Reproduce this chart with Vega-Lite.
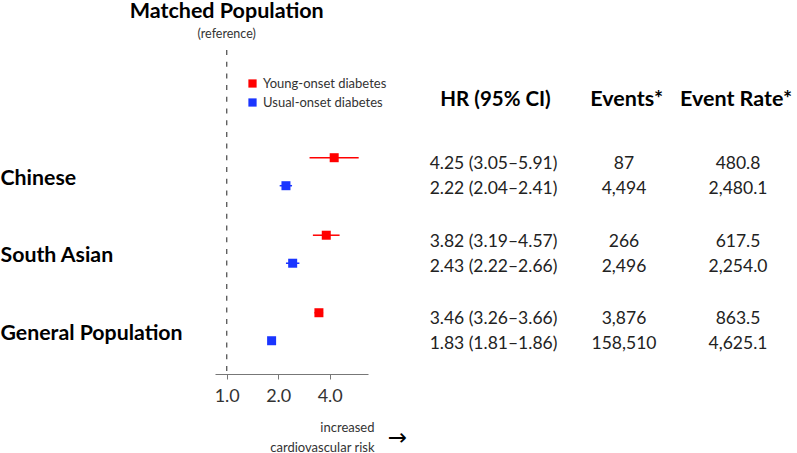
{
  "$schema": "https://vega.github.io/schema/vega-lite/v6.json",
  "background": "white",
  "padding": {"top": 1, "left": 0, "right": 0, "bottom": 0},
  "bounds": "flush",
  "spacing": 90.7,
  "config": {"view": {"stroke": null}, "font": "Lato"},
  "datasets": {
    "rows": [
      {"group": "Chinese", "type": "Young-onset diabetes", "hr": 4.25, "lo": 3.05, "hi": 5.91, "hrText": "4.25 (3.05–5.91)", "events": 87, "rate": 480.8},
      {"group": "Chinese", "type": "Usual-onset diabetes", "hr": 2.22, "lo": 2.04, "hi": 2.41, "hrText": "2.22 (2.04–2.41)", "events": 4494, "rate": 2480.1},
      {"group": "South Asian", "type": "Young-onset diabetes", "hr": 3.82, "lo": 3.19, "hi": 4.57, "hrText": "3.82 (3.19–4.57)", "events": 266, "rate": 617.5},
      {"group": "South Asian", "type": "Usual-onset diabetes", "hr": 2.43, "lo": 2.22, "hi": 2.66, "hrText": "2.43 (2.22–2.66)", "events": 2496, "rate": 2254.0},
      {"group": "General Population", "type": "Young-onset diabetes", "hr": 3.46, "lo": 3.26, "hi": 3.66, "hrText": "3.46 (3.26–3.66)", "events": 3876, "rate": 863.5},
      {"group": "General Population", "type": "Usual-onset diabetes", "hr": 1.83, "lo": 1.81, "hi": 1.86, "hrText": "1.83 (1.81–1.86)", "events": 158510, "rate": 4625.1}
    ],
    "headers": [
      {"col": "HR", "label": "HR (95% CI)"},
      {"col": "Events", "label": "Events*"},
      {"col": "Rate", "label": "Event Rate*"}
    ],
    "reference": [{"ref": 1}]
  },
  "resolve": {
    "scale": {"x": "independent", "y": "independent", "yOffset": "independent", "color": "independent"},
    "legend": {"color": "independent"}
  },
  "hconcat": [
    {
      "width": 153,
      "height": 324,
      "title": {
        "text": "Matched Population",
        "subtitle": "(reference)",
        "anchor": "start",
        "align": "center",
        "frame": "group",
        "dx": 11.7,
        "offset": 9,
        "font": "Lato",
        "fontSize": 21.5,
        "fontWeight": "bold",
        "color": "black",
        "subtitleFont": "Lato",
        "subtitleFontSize": 12.5,
        "subtitleColor": "#333",
        "subtitlePadding": 5
      },
      "layer": [
        {
          "data": {"name": "reference"},
          "mark": {"type": "rule", "strokeDash": [5, 6.7], "color": "#555", "strokeWidth": 1.3},
          "encoding": {
            "x": {"field": "ref", "type": "quantitative"}
          }
        },
        {
          "data": {"name": "rows"},
          "mark": {"type": "rule", "strokeWidth": 1.5},
          "encoding": {
            "x": {
              "field": "lo", "type": "quantitative",
              "scale": {"type": "log", "base": 2, "domain": [0.854, 6.7], "nice": false, "zero": false},
              "axis": {
                "values": [1, 2, 4], "format": ".1f", "grid": false, "labelFlush": false,
                "labelFont": "Lato", "labelFontSize": 18, "labelColor": "#333", "labelPadding": 8,
                "domainColor": "#777", "tickColor": "#777", "tickSize": 5,
                "title": ["increased", "cardiovascular risk"],
                "titleX": 159, "titleY": 57, "titleAlign": "right", "titleBaseline": "alphabetic",
                "titleFont": "Lato", "titleFontSize": 13, "titleFontWeight": "normal", "titleColor": "#333", "titleLineHeight": 20
              }
            },
            "x2": {"field": "hi"},
            "y": {
              "field": "group", "type": "nominal",
              "scale": {"type": "band", "domain": ["header", "Chinese", "South Asian", "General Population"], "paddingInner": 0, "paddingOuter": 0.09, "align": 0.39},
              "axis": {
                "values": ["Chinese", "South Asian", "General Population"], "title": null, "domain": false, "ticks": false, "tickSize": 0,
                "labelAlign": "left", "labelBaseline": "middle", "labelPadding": 215, "labelOffset": 7, "labelLimit": 400,
                "labelFont": "Lato", "labelFontSize": 21.3, "labelFontWeight": "bold", "labelColor": "black"
              }
            },
            "yOffset": {
              "field": "type", "type": "nominal",
              "scale": {"type": "band", "domain": ["Young-onset diabetes", "Usual-onset diabetes"], "paddingInner": 0, "paddingOuter": 0.384}
            },
            "color": {
              "field": "type", "type": "nominal",
              "scale": {"domain": ["Young-onset diabetes", "Usual-onset diabetes"], "range": ["#ff0000", "#1a35ff"]},
              "legend": {
                "title": null, "orient": "none", "legendX": 31, "legendY": 27,
                "symbolType": "square", "symbolSize": 68, "symbolStrokeWidth": 0,
                "labelFont": "Lato", "labelFontSize": 13, "labelColor": "#333",
                "rowPadding": 5, "labelOffset": 4
              }
            }
          }
        },
        {
          "data": {"name": "rows"},
          "mark": {"type": "point", "shape": "square", "filled": true, "size": 81, "opacity": 1},
          "encoding": {
            "x": {"field": "hr", "type": "quantitative"},
            "y": {"field": "group", "type": "nominal"},
            "yOffset": {"field": "type", "type": "nominal"},
            "color": {
              "field": "type", "type": "nominal",
              "legend": {
                "title": null, "orient": "none", "legendX": 31, "legendY": 27,
                "symbolType": "square", "symbolSize": 68, "symbolStrokeWidth": 0,
                "labelFont": "Lato", "labelFontSize": 13, "labelColor": "#333",
                "rowPadding": 5, "labelOffset": 4
              }
            }
          }
        }
      ]
    },
    {
      "width": 314.6,
      "height": 324,
      "data": {"name": "rows"},
      "layer": [
        {
          "data": {"name": "headers"},
          "transform": [{"filter": "datum.col === 'HR'"}],
          "mark": {"type": "text", "font": "Lato", "fontSize": 20.5, "fontWeight": "bold", "color": "black", "baseline": "middle", "dy": 6, "dx": 0.5},
          "encoding": {
            "x": {
              "field": "col", "type": "nominal",
              "scale": {"type": "point", "domain": ["HR", "Events", "Rate"], "padding": 0.3},
              "axis": {
                "labels": false, "ticks": false, "domain": false, "grid": false,
                "title": "→", "titleX": -61.7, "titleY": 70, "titleAlign": "center", "titleBaseline": "alphabetic",
                "titleFont": "DejaVu Sans", "titleFontSize": 23, "titleFontWeight": "normal", "titleColor": "black"
              }
            },
            "y": {
              "datum": "header", "type": "nominal",
              "scale": {"type": "band", "domain": ["header", "Chinese", "South Asian", "General Population"], "paddingInner": 0, "paddingOuter": 0.09, "align": 0.39},
              "axis": null
            },
            "text": {"field": "label"}
          }
        },
        {
          "data": {"name": "headers"},
          "transform": [{"filter": "datum.col === 'Events'"}],
          "mark": {"type": "text", "font": "Lato", "fontSize": 21.5, "fontWeight": "bold", "color": "black", "baseline": "middle", "dy": 6, "dx": 10.7},
          "encoding": {
            "x": {"field": "col", "type": "nominal"},
            "y": {"datum": "header", "type": "nominal"},
            "text": {"field": "label"}
          }
        },
        {
          "data": {"name": "headers"},
          "transform": [{"filter": "datum.col === 'Rate'"}],
          "mark": {"type": "text", "font": "Lato", "fontSize": 21.5, "fontWeight": "bold", "color": "black", "baseline": "middle", "dy": 6, "dx": -1},
          "encoding": {
            "x": {"field": "col", "type": "nominal"},
            "y": {"datum": "header", "type": "nominal"},
            "text": {"field": "label"}
          }
        },
        {
          "mark": {"type": "text", "font": "Lato", "fontSize": 17.5, "color": "#222", "baseline": "middle", "dy": 5, "dx": -1.5},
          "encoding": {
            "x": {"datum": "HR", "type": "nominal"},
            "y": {"field": "group", "type": "nominal"},
            "yOffset": {
              "field": "type", "type": "nominal",
              "scale": {"type": "band", "domain": ["Young-onset diabetes", "Usual-onset diabetes"], "paddingInner": 0, "paddingOuter": 0.55}
            },
            "text": {"field": "hrText"}
          }
        },
        {
          "mark": {"type": "text", "font": "Lato", "fontSize": 17.5, "color": "#222", "baseline": "middle", "dy": 5, "dx": 8},
          "encoding": {
            "x": {"datum": "Events", "type": "nominal"},
            "y": {"field": "group", "type": "nominal"},
            "yOffset": {"field": "type", "type": "nominal"},
            "text": {"field": "events", "type": "quantitative", "format": ","}
          }
        },
        {
          "mark": {"type": "text", "font": "Lato", "fontSize": 17.5, "color": "#222", "baseline": "middle", "dy": 5, "dx": 1},
          "encoding": {
            "x": {"datum": "Rate", "type": "nominal"},
            "y": {"field": "group", "type": "nominal"},
            "yOffset": {"field": "type", "type": "nominal"},
            "text": {"field": "rate", "type": "quantitative", "format": ",.1f"}
          }
        }
      ]
    }
  ]
}
